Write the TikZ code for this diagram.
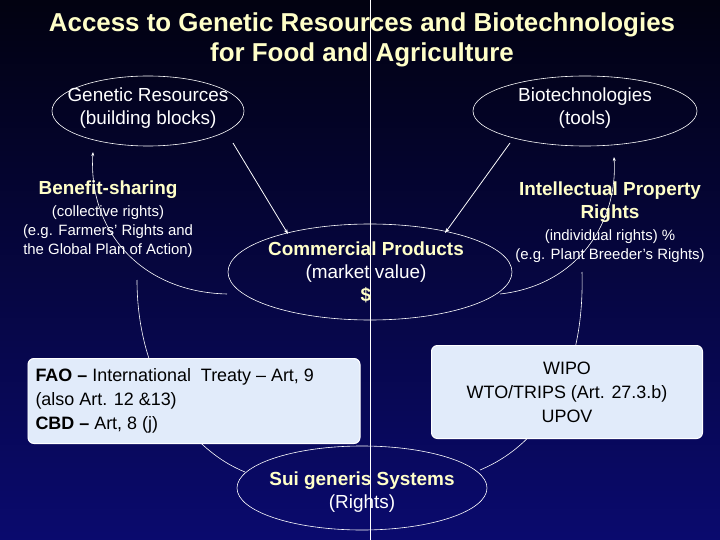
\documentclass[tikz,border=0pt]{standalone}
\usepackage{fontspec}
\setmainfont{Liberation Sans}
\usetikzlibrary{arrows.meta,shadings,positioning}
\definecolor{navy}{RGB}{10,10,110}
\definecolor{ylw}{RGB}{255,255,200}
\definecolor{boxc}{RGB}{225,235,250}
\tikzset{
  ttl/.style={text=ylw,font=\fontsize{26}{30}\selectfont\bfseries,align=center},
  head/.style={text=ylw,font=\fontsize{19}{23}\selectfont\bfseries,align=center},
  body/.style={text=white,font=\fontsize{19}{23}\selectfont,align=center},
  small/.style={text=white,font=\fontsize{15}{19}\selectfont,align=center},
  arr/.style={draw=white,line width=0.8pt,-{Stealth[length=5pt]}},
  arc/.style={draw=white,line width=0.6pt},
  box/.style={draw=white,fill=boxc,rounded corners=6pt,line width=1pt},
}
\begin{document}
\begin{tikzpicture}[x=1bp,y=-1bp]
\shade[top color=black!85!navy,bottom color=navy] (0,0) rectangle (720,540);
\useasboundingbox (0,0) rectangle (720,540);
\coordinate (vt) at (370,0); \coordinate (vb) at (370,540);
\draw[white,line width=0.6pt] (vt) -- (vb);
\node[ttl] (title) at (362,40) {Access to Genetic Resources and Biotechnologies\\for Food and Agriculture};
% ellipses
\draw[white,line width=0.6pt] (148,111) ellipse (96 and 35);
\node[body] (gr) at (148,108) {Genetic Resources\\(building blocks)};
\draw[white,line width=0.6pt] (585,111) ellipse (112 and 35);
\node[body] (bt) at (585,108) {Biotechnologies\\(tools)};
\draw[white,line width=0.6pt] (370,272) ellipse (142 and 48);
\node[body] (cp) at (366,272) {\textcolor{ylw}{\bfseries Commercial Products}\\(market value)\\\textcolor{ylw}{\bfseries \$}};
\draw[white,line width=0.6pt] (362,488) ellipse (125 and 42);
\node[body] (sg) at (362,492) {\textcolor{ylw}{\bfseries Sui generis Systems}\\(Rights)};
% labels
\node[head] (bs) at (108,190) {Benefit-sharing};
\node[small,below=0pt of bs] (bsd) {(collective rights)\\(e.g. Farmers’ Rights and\\the Global Plan of Action)};
\node[head] (ipr) at (610,202) {Intellectual Property\\Rights};
\node[small,below=0pt of ipr] (iprd) {(individual rights) \%\\(e.g. Plant Breeder’s Rights)};
% arrows
\coordinate (a1s) at (233,143); \coordinate (a1e) at (288,234);
\draw[arr] (a1s) -- (a1e);
\coordinate (a2s) at (510,143); \coordinate (a2e) at (445,233);
\draw[arr] (a2s) -- (a2e);
% arcs
\coordinate (l1) at (227,294); \coordinate (l2) at (93,152);
\draw[arc,-{Stealth[length=4pt]}] (l1) .. controls (140,292) and (88,230) .. (l2);
\coordinate (r1) at (500,294); \coordinate (r2) at (614,157);
\draw[arc,-{Stealth[length=4pt]}] (r1) .. controls (580,285) and (618,220) .. (r2);
\coordinate (ll1) at (137,280); \coordinate (ll2) at (245,472);
\draw[arc] (ll1) .. controls (137,380) and (190,450) .. (ll2);
\coordinate (rr1) at (582,272); \coordinate (rr2) at (480,470);
\draw[arc] (rr1) .. controls (585,380) and (540,445) .. (rr2);
% boxes
\node[box,minimum width=332bp,minimum height=85bp] (fao) at (194,401) {};
\node[anchor=west,align=left,font=\fontsize{18}{24}\selectfont] (faot) at (32,401) {\textbf{FAO –} International\ \ Treaty – Art, 9\\(also Art. 12 \&13)\\\textbf{CBD –} Art, 8 (j)};
\node[box,minimum width=271bp,minimum height=93bp] (wipo) at (567,392) {};
\node[align=center,font=\fontsize{18}{24}\selectfont] (wipot) at (567,392) {WIPO\\WTO/TRIPS (Art. 27.3.b)\\UPOV};
\end{tikzpicture}
\end{document}
